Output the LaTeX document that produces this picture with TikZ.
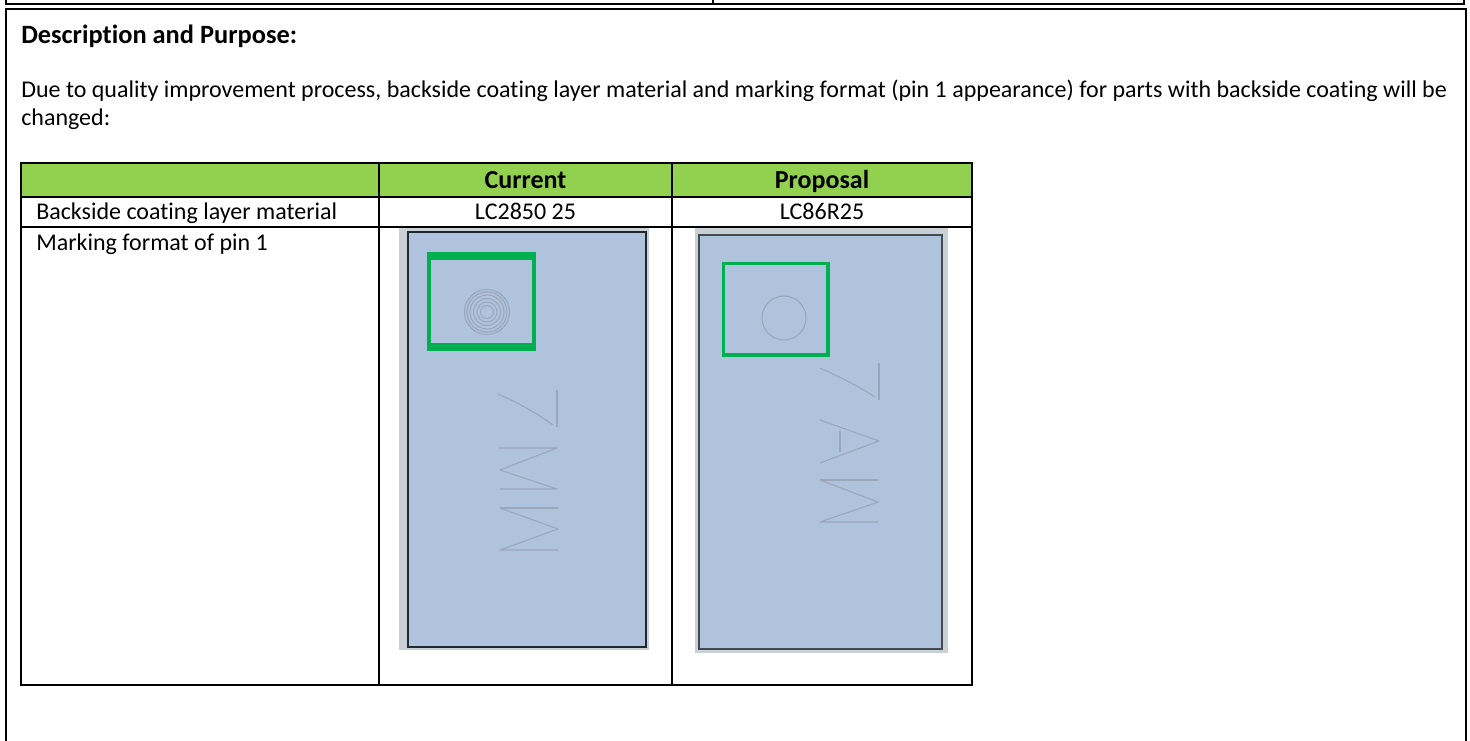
\documentclass[tikz,border=0pt]{standalone}
\usepackage{fontspec}
\setmainfont[Ligatures=NoCommon]{Carlito}
\definecolor{hdr}{HTML}{92D050}
\definecolor{chip}{HTML}{B0C3DD}
\definecolor{halo}{HTML}{C9D0D6}
\definecolor{greenmark}{HTML}{00B050}
\definecolor{etch}{HTML}{9AA6BA}
\definecolor{edgeA}{HTML}{1F2730}
\definecolor{edgeB}{HTML}{454A50}
\tikzset{
  rule/.style={draw=black,line width=1.5pt},
  thinrule/.style={draw=black,line width=1.1pt},
  label/.style={inner sep=0pt,anchor=base west,font=\fontsize{18}{20}\selectfont},
  cellc/.style={inner sep=0pt,anchor=base,font=\fontsize{18}{20}\selectfont},
  headc/.style={inner sep=0pt,anchor=base,font=\fontsize{19.5}{22}\selectfont\bfseries},
  etched/.style={draw=etch,line width=0.8pt,line join=round},
}
\begin{document}
\begin{tikzpicture}[x=0.75pt,y=-0.75pt]
\useasboundingbox (0,0) rectangle (1470,741);
% top rule remains
\draw[rule] (6,0) -- (6,4) -- (1464,4) -- (1464,0);
\draw[thinrule] (713,0) -- (713,4);
% main frame
\draw[rule] (6,741) -- (6,9) -- (1466,9) -- (1466,741);
% text
\node[label,font=\fontsize{19.8}{22}\selectfont\bfseries] (title) at (21,44) {Description and Purpose:};
\node[label] (line1) at (21,98) {Due to quality improvement process, backside coating layer material and marking format (pin 1 appearance) for parts with backside coating will be};
\node[label] (line2) at (21,126) {changed:};
% table
\fill[hdr] (21,163) rectangle (972,197);
\draw[rule] (21,163) rectangle (972,685);
\draw[rule] (21,197) -- (972,197);
\draw[thinrule] (21,227) -- (972,227);
\draw[rule] (379,163) -- (379,685);
\draw[rule] (672,163) -- (672,685);
\node[headc] (cur) at (525.5,188.5) {Current};
\node[headc] (pro) at (822,188.5) {Proposal};
\node[label] (r1) at (36,220) {Backside coating layer material};
\node[cellc] (v1) at (525.5,220) {LC2850 25};
\node[cellc] (v2) at (822,220) {LC86R25};
\node[label] (r2) at (36,251) {Marking format of pin 1};
% current chip
\fill[halo] (399,227.8) rectangle (649,650);
\fill[chip] (408,232) rectangle (645.5,647);
\draw[edgeA,line width=1.5pt] (408,232) rectangle (645.5,647);
\draw[greenmark,line width=3pt] (429,254) rectangle (533.5,349);
\fill[greenmark] (427,252) rectangle (535.5,260);
\fill[greenmark] (427,343) rectangle (535.5,351);
\foreach \r in {6.5,10,13.5,17,20,22.5}{\draw[etched] (487,312) circle (\r);}
\draw[etched] (498,394) .. controls (520,404) and (535,412) .. (553,425);
\draw[etched] (557,390) -- (557,427);
\draw[etched] (499,448) -- (557,448) -- (500,470) -- (557,489) -- (500,489);
\draw[etched] (500,508) -- (558,508);
\draw[etched] (500,508) -- (558,529) -- (500,550) -- (558,550);
% proposal chip
\fill[halo] (695,227.8) rectangle (948,653);
\fill[chip] (699,235) rectangle (942,649);
\draw[edgeB,line width=2pt] (699,235) rectangle (942,649);
\draw[greenmark,line width=2.3pt] (723.5,263.5) rectangle (828,355);
\draw[etched] (784,318) circle (22);
\draw[etched] (820,368) .. controls (842,378) and (858,386) .. (875,397);
\draw[etched] (879,363) -- (879,400);
\draw[etched] (820,420) -- (879,441) -- (820,463);
\draw[etched] (840,431) -- (840,452);
\draw[etched] (820,480) -- (878,480);
\draw[etched] (820,480) -- (878,502) -- (820,522) -- (878,522);
\end{tikzpicture}
\end{document}
